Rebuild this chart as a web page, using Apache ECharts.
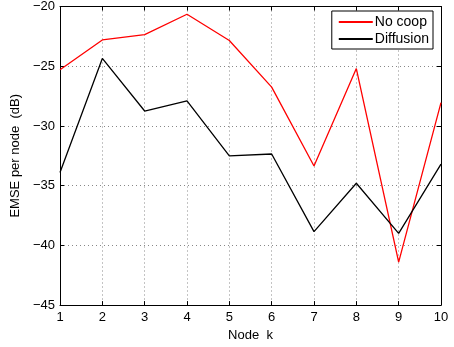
<!DOCTYPE html>
<html><head><meta charset="utf-8">
<script src="https://cdn.jsdelivr.net/npm/echarts@6/dist/echarts.min.js"></script>
<style>html,body{margin:0;padding:0;background:#fff}#c{width:454px;height:347px}</style>
</head><body><div id="c"></div>
<script>
const nodes = [1,2,3,4,5,6,7,8,9,10];
const noCoop = [-25.3,-22.8,-22.35,-20.65,-22.85,-26.75,-33.35,-25.2,-41.4,-28.05];
const diffusion = [-33.9,-24.35,-28.75,-27.9,-32.5,-32.35,-38.85,-34.8,-39.0,-33.2];
const xTicks = [1,2,3,4,5,6,7,8,9,10];
const yTicks = [-45,-40,-35,-30,-25,-20];

const font = 'Liberation Sans, Arial, Helvetica, sans-serif';
const chart = echarts.init(document.getElementById('c'));
const tickStyle = {show:true, inside:true, length:4, lineStyle:{color:'#000', width:1}};
const lineAxis = {show:true, lineStyle:{color:'#000', width:1}};
chart.setOption({
  animation:false,
  grid:{left:60, top:5, right:13, bottom:41.5, containLabel:false},
  legend:{
    right:21, top:11, orient:'vertical', backgroundColor:'#fff',
    borderColor:'#000', borderWidth:1, borderRadius:0,
    padding:[4,4,3,7], itemGap:3, itemWidth:34, itemHeight:2, icon:'rect',
    textStyle:{fontFamily:font, fontSize:14, color:'#000', padding:[0,0,0,-3]},
    data:['No coop','Diffusion']
  },
  xAxis:[{
    type:'value', min:1, max:10, interval:1,
    name:'Node  k', nameLocation:'middle', nameGap:20,
    nameTextStyle:{fontFamily:font, fontSize:13, color:'#000'},
    axisLine:lineAxis, axisTick:tickStyle,
    axisLabel:{fontFamily:font, fontSize:13, color:'#000', margin:6,
      customValues:xTicks, formatter:v=>String(v)},
    splitLine:{show:true, lineStyle:{color:'#888', type:[1,3], width:1}}
  },{
    type:'value', position:'top', min:1, max:10, interval:1,
    axisLine:lineAxis, axisTick:tickStyle, axisLabel:{show:false}, splitLine:{show:false}
  }],
  yAxis:[{
    type:'value', min:-45, max:-20, interval:5,
    name:'EMSE per node  (dB)', nameLocation:'middle', nameGap:37, nameRotate:90,
    nameTextStyle:{fontFamily:font, fontSize:13, color:'#000'},
    axisLine:lineAxis, axisTick:tickStyle,
    axisLabel:{fontFamily:font, fontSize:13, color:'#000', margin:5,
      formatter:v=>String(v).replace('-','\u2212')},
    splitLine:{show:true, lineStyle:{color:'#888', type:[1,3], width:1}}
  },{
    type:'value', position:'right', min:-45, max:-20, interval:5,
    axisLine:lineAxis, axisTick:tickStyle, axisLabel:{show:false}, splitLine:{show:false}
  }],
  series:[
    {name:'No coop', type:'line', data:nodes.map((k,i)=>[k,noCoop[i]]),
     showSymbol:false, symbol:'none', lineStyle:{color:'#ff0000', width:1.3}, itemStyle:{color:'#ff0000'}},
    {name:'Diffusion', type:'line', data:nodes.map((k,i)=>[k,diffusion[i]]),
     showSymbol:false, symbol:'none', lineStyle:{color:'#000', width:1.3}, itemStyle:{color:'#000'}}
  ]
});
</script></body></html>
